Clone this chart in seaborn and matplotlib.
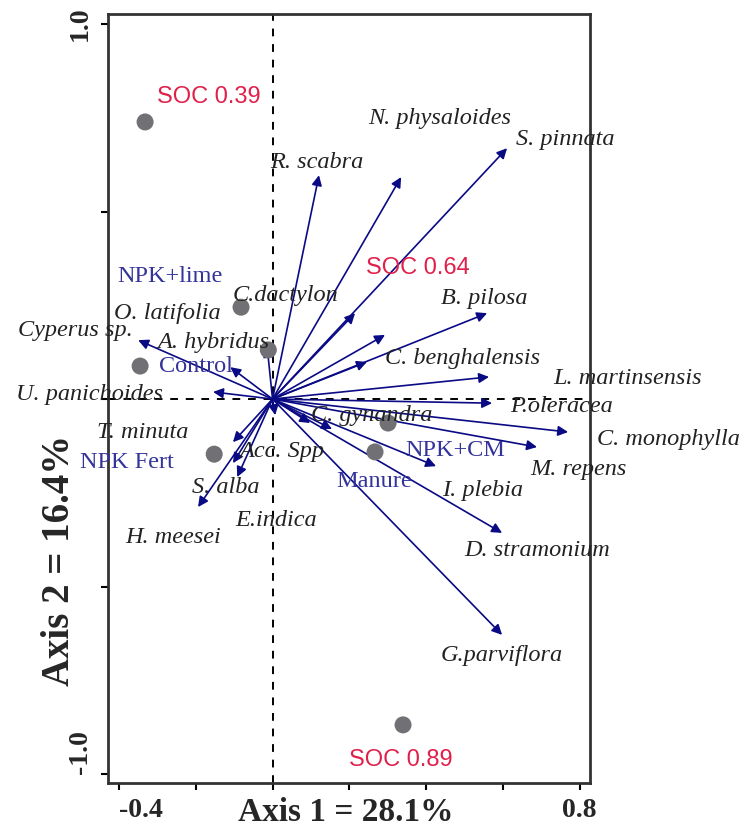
import matplotlib
matplotlib.use("Agg")
import matplotlib.pyplot as plt
import seaborn as sns
import pandas as pd

# Species vectors (RDA axis 1, axis 2 scores)
arrow_x = [0.121, 0.335, 0.611, 0.215, 0.293, 0.246, 0.559, 0.564, 0.572,
           0.770, 0.689, 0.426, 0.598, 0.598, 0.098, 0.155,
           -0.014, -0.110, -0.350, -0.155,
           -0.103, -0.103, -0.092, -0.194, 0.007]
arrow_y = [0.597, 0.592, 0.669, 0.229, 0.171, 0.099, 0.229, 0.059, -0.011,
           -0.088, -0.128, -0.179, -0.357, -0.629, -0.064, -0.080,
           0.139, 0.085, 0.157, 0.019,
           -0.115, -0.171, -0.208, -0.288, -0.043]

# Species names and where their labels sit
species = ["R. scabra", "N. physaloides", "S. pinnata", "B. pilosa", "C.dactylon",
           "O. latifolia", "Cyperus sp.", "A. hybridus", "C. benghalensis",
           "L. martinsensis", "P.oleracea", "C. gynandra", "C. monophylla",
           "M. repens", "I. plebia", "D. stramonium", "G.parviflora",
           "U. panichoides", "T. minuta", "Acc. Spp", "S. alba", "E.indica",
           "H. meesei"]
species_lx = [0.116, 0.436, 0.762, 0.551, 0.035, -0.275, -0.514, -0.155, 0.494,
              0.926, 0.754, 0.259, 0.845, 0.796, 0.546, 0.689, 0.598,
              -0.477, -0.339, 0.025, -0.121, 0.009, -0.259]
species_ly = [0.632, 0.749, 0.691, 0.269, 0.275, 0.229, 0.184, 0.152, 0.109,
              0.056, -0.019, -0.043, -0.109, -0.187, -0.243, -0.405, -0.685,
              0.011, -0.088, -0.141, -0.235, -0.323, -0.368]

# Treatment / SOC sample scores
point_x = [-0.332, -0.082, -0.011, -0.345, -0.152, 0.301, 0.267, 0.340]
point_y = [0.739, 0.245, 0.131, 0.088, -0.147, -0.064, -0.141, -0.869]

treatments = ["NPK+lime", "Control", "NPK Fert", "NPK+CM", "Manure"]
treat_lx = [-0.267, -0.199, -0.379, 0.475, 0.264]
treat_ly = [0.328, 0.088, -0.168, -0.136, -0.221]

soc_labels = ["SOC 0.39", "SOC 0.64", "SOC 0.89"]
soc_lx = [-0.165, 0.379, 0.335]
soc_ly = [0.805, 0.349, -0.963]

x_ticks = [-0.4, -0.2, 0.0, 0.2, 0.4, 0.6, 0.8]
x_ticklabels = ["-0.4", "", "", "", "", "", "0.8"]
y_ticks = [-1.0, -0.5, 0.0, 0.5, 1.0]
y_ticklabels = ["-1.0", "", "", "", "1.0"]

sns.set_theme(style="white")
plt.rcParams["font.family"] = ["Liberation Serif", "DejaVu Serif"]

fig = plt.figure(figsize=(7.49, 8.32), dpi=100)
ax = fig.add_axes([0.1442, 0.0589, 0.7877 - 0.1442, 0.9832 - 0.0589])

ax.set_xlim(-0.4286, 0.827)
ax.set_ylim(-1.024, 1.027)

ax.axvline(0, color="black", lw=1.4, ls=(0, (4, 4)), zorder=1)
ax.axhline(0, color="black", lw=1.4, ls=(0, (4, 4)), zorder=1)

navy = "#0a0a85"
for xe, ye in zip(arrow_x, arrow_y):
    ax.annotate("", xy=(xe, ye), xytext=(0, 0),
                arrowprops=dict(arrowstyle="-|>", color=navy, lw=1.2,
                                mutation_scale=15, shrinkA=0, shrinkB=0),
                zorder=3)

pts = pd.DataFrame({"x": point_x, "y": point_y})
sns.scatterplot(data=pts, x="x", y="y", ax=ax, color="#717175", s=150,
                edgecolor="none", zorder=4, legend=False)

for name, lx, ly in zip(species, species_lx, species_ly):
    ha = "left" if name == "C. monophylla" else "center"
    ax.text(lx, ly, name, ha=ha, va="center", fontsize=17.5, style="italic",
            color="#222222", zorder=5, clip_on=False)

for name, lx, ly in zip(treatments, treat_lx, treat_ly):
    ax.text(lx, ly, name, ha="center", va="center", fontsize=17.5,
            color="#33339a", zorder=5)

for name, lx, ly in zip(soc_labels, soc_lx, soc_ly):
    ax.text(lx, ly, name, ha="center", va="center", fontsize=17,
            family="Liberation Sans", color="#e0204a", zorder=5)

ax.set_xticks(x_ticks)
ax.set_xticklabels(x_ticklabels, fontsize=20, fontweight="bold")
ax.set_yticks(y_ticks)
ax.set_yticklabels(y_ticklabels, fontsize=20, fontweight="bold", rotation=90)
yl = ax.get_yticklabels()
yl[0].set_va("bottom")
yl[-1].set_va("center")
xl = ax.get_xticklabels()
xl[0].set_ha("left")
ax.tick_params(axis="both", direction="out", length=5, width=1.5,
               color="black", pad=6, bottom=True, left=True)

ax.set_xlabel("Axis 1 = 28.1%", fontsize=24, fontweight="bold")
ax.xaxis.label.set_va("center")
ax.xaxis.set_label_coords(0.494, -0.038)
ax.set_ylabel("Axis 2 = 16.4%", fontsize=28, fontweight="bold")
ax.yaxis.label.set_va("center")
ax.yaxis.set_label_coords(-0.10, 0.29)

for sp in ax.spines.values():
    sp.set_color("#333333")
    sp.set_linewidth(2)

fig.savefig("out.png", dpi=100)
